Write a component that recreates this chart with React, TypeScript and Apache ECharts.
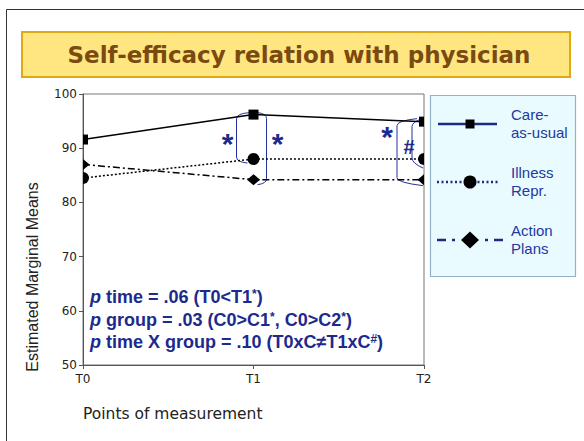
import React, { useEffect, useRef } from "react";
import * as echarts from "echarts";

// ---------- data ----------
const timePoints = ["T0", "T1", "T2"];
const groupNames = ["Care-as-usual", "Illness Repr.", "Action Plans"];
const legendLabels = [
  ["Care-", "as-usual"],
  ["Illness", "Repr."],
  ["Action", "Plans"],
];
const careAsUsual = [91.6, 96.2, 94.9];
const illnessRepr = [84.5, 88.0, 88.0];
const actionPlans = [87.0, 84.2, 84.2];
const yMin = 50;
const yMax = 100;
const yStep = 10;
const titleText = "Self-efficacy relation with physician";
const yAxisTitle = "Estimated Marginal Means";
const xAxisTitle = "Points of measurement";
const statLines = [
  "{i|p} time = .06 (T0<T1{s|*})",
  "{i|p} group = .03 (C0>C1{s|*}, C0>C2{s|*})",
  "{i|p} time X group = .10 (T0xC\u2260T1xC{s|#})",
];

// ---------- styles ----------
const NAVY = "#1c2a8c";
const LEGEND_NAVY = "#22399e";
const ARIAL = "'Liberation Sans', Arial, sans-serif";
const VERDANA = "'DejaVu Sans', Verdana, sans-serif";

const shapes: Record<string, any> = {
  rect: {
    full: "rect",
    size: [10, 10],
    right: "path://M0,0L5,0L5,10L0,10Z",
    left: "path://M0,0L5,0L5,10L0,10Z",
  },
  circle: {
    full: "circle",
    size: [12, 12],
    right: "path://M0,0A6,6 0 0 1 0,12Z",
    left: "path://M6,0A6,6 0 0 0 6,12Z",
  },
  diamond: {
    full: "diamond",
    size: [13, 11],
    right: "path://M0,0L6.5,5.5L0,11Z",
    left: "path://M6.5,0L0,5.5L6.5,11Z",
  },
};

// points on the plot edges are clipped to half symbols, as in the reference
function makeData(values: number[], shape: any) {
  const n = values.length;
  return values.map((v, i) => {
    const half = [shape.size[0] / 2, shape.size[1]];
    if (i === 0)
      return { value: v, symbol: shape.right, symbolSize: half, symbolOffset: [shape.size[0] / 4, 0] };
    if (i === n - 1)
      return { value: v, symbol: shape.left, symbolSize: half, symbolOffset: [-shape.size[0] / 4, 0] };
    return v;
  });
}

function bracket(xb: number, yTop: number, xTopEnd: number, yBot: number, xBotEnd: number, yTopEnd: number, yBotEnd: number) {
  const r = 5;
  const st = { stroke: "#2233a0", lineWidth: 1, fill: "none" };
  return {
    type: "group",
    silent: true,
    z: 20,
    children: [
      { type: "bezierCurve", shape: { x1: xTopEnd, y1: yTopEnd, x2: xb, y2: yTop + r, cpx1: xb, cpy1: yTop }, style: st },
      { type: "line", shape: { x1: xb, y1: yTop + r, x2: xb, y2: yBot - r }, style: st },
      { type: "bezierCurve", shape: { x1: xb, y1: yBot - r, x2: xBotEnd, y2: yBotEnd, cpx1: xb, cpy1: yBot }, style: st },
    ],
  };
}

export default function App() {
  const ref = useRef<HTMLDivElement>(null);

  useEffect(() => {
    if (!ref.current) return;
    const chart = echarts.init(ref.current, undefined, { renderer: "svg" });

    const seriesDefs = [
      { name: groupNames[0], values: careAsUsual, shape: shapes.rect, type: "solid" as any },
      { name: groupNames[1], values: illnessRepr, shape: shapes.circle, type: [2, 2] as any },
      { name: groupNames[2], values: actionPlans, shape: shapes.diamond, type: [7, 3, 2, 3] as any },
    ];

    const legendY = [124, 182, 240];
    const legendChildren: any[] = [
      {
        type: "rect",
        shape: { x: 430.5, y: 95.5, width: 145, height: 181 },
        style: { fill: "#e9fbff", stroke: "#8fb3c9", lineWidth: 1.2 },
      },
    ];
    const lc = LEGEND_NAVY;
    // item 1 solid
    legendChildren.push({ type: "line", shape: { x1: 438, y1: legendY[0], x2: 497, y2: legendY[0] }, style: { stroke: "#1b2a84", lineWidth: 2.5 } });
    legendChildren.push({ type: "rect", shape: { x: 465.5, y: legendY[0] - 4.5, width: 9, height: 9 }, style: { fill: "#000" } });
    // item 2 dotted
    legendChildren.push({ type: "line", shape: { x1: 437, y1: legendY[1], x2: 499, y2: legendY[1] }, style: { stroke: "#1b2a84", lineWidth: 2.5, lineDash: [2, 2.5] } });
    legendChildren.push({ type: "circle", shape: { cx: 470, cy: legendY[1], r: 6.5 }, style: { fill: "#000" } });
    // item 3 dash-dot
    const y3 = legendY[2];
    [[437, 446], [452, 455], [485, 488], [494, 503]].forEach(([a, b]) =>
      legendChildren.push({ type: "line", shape: { x1: a, y1: y3, x2: b, y2: y3 }, style: { stroke: "#1b2a84", lineWidth: 2.5 } })
    );
    legendChildren.push({
      type: "polygon",
      shape: { points: [[470, y3 - 8.5], [479, y3], [470, y3 + 8.5], [461, y3]] },
      style: { fill: "#000" },
    });
    legendLabels.forEach((lines, k) => {
      lines.forEach((t, j) => {
        legendChildren.push({
          type: "text",
          style: {
            text: t,
            x: 511,
            y: legendY[k] - 10 + j * 18.5,
            fill: lc,
            font: `15px ${ARIAL}`,
            verticalAlign: "middle",
            align: "left",
          },
        });
      });
    });

    const baseGraphics: any[] = [
      {
        type: "rect",
        silent: true,
        z: -10,
        shape: { x: 6.5, y: 9.5, width: 700, height: 500 },
        style: { fill: "none", stroke: "#333", lineWidth: 1 },
      },
      {
        type: "rect",
        silent: true,
        shape: { x: 22, y: 32, width: 548, height: 45 },
        style: { fill: "#ffe680", stroke: "#e0a812", lineWidth: 2 },
      },
      {
        type: "text",
        silent: true,
        style: {
          text: titleText,
          x: 299,
          y: 54.5,
          align: "center",
          verticalAlign: "middle",
          fill: "#7a4a10",
          font: `bold 23px ${VERDANA}`,
        },
      },
      { type: "group", silent: true, z: 10, children: legendChildren },
      {
        type: "text",
        silent: true,
        x: 32,
        y: 277,
        rotation: Math.PI / 2,
        style: {
          text: yAxisTitle,
          x: 0,
          y: 0,
          align: "center",
          verticalAlign: "middle",
          fill: "#222",
          font: `16px ${ARIAL}`,
        },
      },
      {
        type: "text",
        silent: true,
        style: {
          text: xAxisTitle,
          x: 83,
          y: 414,
          align: "left",
          verticalAlign: "middle",
          fill: "#222",
          font: `15.5px ${VERDANA}`,
        },
      },
      ...statLines.map((t, k) => ({
        type: "text",
        silent: true,
        z: 20,
        style: {
          text: t,
          x: 90,
          y: 297 + k * 22.5,
          align: "left",
          verticalAlign: "middle",
          fill: NAVY,
          fontSize: 18,
          fontWeight: "bold",
          fontFamily: ARIAL,
          rich: {
            i: { fontStyle: "italic", fontWeight: "bold", fontSize: 18, fontFamily: ARIAL, fill: NAVY },
            s: { fontWeight: "bold", fontSize: 12, fontFamily: ARIAL, fill: NAVY, verticalAlign: "top" },
          },
        },
      })),
    ];

    const option: any = {
      animation: false,
      backgroundColor: "#fff",
      grid: {
        left: 83,
        top: 94,
        right: 160,
        bottom: 76,
        show: true,
        borderColor: "#777",
        borderWidth: 1,
        backgroundColor: "transparent",
      },
      xAxis: {
        type: "category",
        data: timePoints,
        boundaryGap: false,
        axisLine: { lineStyle: { color: "#555", width: 1 } },
        axisTick: { show: true, length: 4, lineStyle: { color: "#555" } },
        axisLabel: { color: "#222", fontFamily: VERDANA, fontSize: 12, margin: 8 },
        splitLine: { show: false },
      },
      yAxis: {
        type: "value",
        min: yMin,
        max: yMax,
        interval: yStep,
        axisLine: { show: true, lineStyle: { color: "#555", width: 1 } },
        axisTick: { show: true, length: 4, lineStyle: { color: "#555" } },
        axisLabel: { color: "#222", fontFamily: VERDANA, fontSize: 12, margin: 6 },
        splitLine: { show: false },
      },
      series: seriesDefs.map((s) => ({
        type: "line",
        name: s.name,
        data: makeData(s.values, s.shape),
        symbol: s.shape.full,
        symbolSize: s.shape.size,
        showAllSymbol: true,
        silent: true,
        lineStyle: { color: "#000", width: 1.5, type: s.type },
        itemStyle: { color: "#000" },
        emphasis: { disabled: true },
        z: 3,
      })),
      graphic: baseGraphics,
    };

    chart.setOption(option);

    // annotations anchored to data positions
    const px = (i: number, v: number) => chart.convertToPixel({ gridIndex: 0 }, [i, v]) as number[];
    const s1 = px(1, careAsUsual[1]);
    const c1 = px(1, illnessRepr[1]);
    const d1 = px(1, actionPlans[1]);
    const s2 = px(2, careAsUsual[2]);
    const c2 = px(2, illnessRepr[2]);
    const d2 = px(2, actionPlans[2]);

    const star = (x: number, y: number, t: string, size: number, dy: number) => ({
      type: "text",
      silent: true,
      z: 20,
      style: {
        text: t,
        x,
        y: y + dy,
        align: "center",
        verticalAlign: "middle",
        fill: NAVY,
        font: `bold ${size}px ${ARIAL}`,
      },
    });

    const annotations: any[] = [];
    annotations.push(bracket(s1[0] - 17, s1[1] - 1, s1[0] - 4, c1[1] + 3, s1[0] - 6, s1[1] - 2, c1[1] + 4));
    annotations.push(bracket(s1[0] + 13, s1[1] - 1, s1[0] + 4, d1[1] + 4, s1[0] + 4, s1[1] - 2, d1[1] + 5));
    annotations.push(bracket(s2[0] - 27, s2[1] - 1, s2[0] - 7, d2[1] + 3, s2[0] - 1, s2[1] - 3, d2[1] + 6));
    annotations.push(bracket(s2[0] - 12, s2[1], s2[0] - 1, c2[1] + 4, s2[0] - 1, s2[1] - 3, c2[1] + 9));
    annotations.push(star(s1[0] - 26, s1[1] + 22, "*", 30, 7));
    annotations.push(star(s1[0] + 24, s1[1] + 22, "*", 30, 7));
    annotations.push(star(s2[0] - 37, s2[1] + 8, "*", 30, 7));
    annotations.push(star(s2[0] - 15, s2[1] + 24, "#", 20, 1));

    chart.setOption({ graphic: [...baseGraphics, ...annotations] });

    return () => chart.dispose();
  }, []);

  return (
    <div
      ref={ref}
      style={{ position: "fixed", left: 0, top: 0, width: 584, height: 441, background: "#fff" }}
    />
  );
}
